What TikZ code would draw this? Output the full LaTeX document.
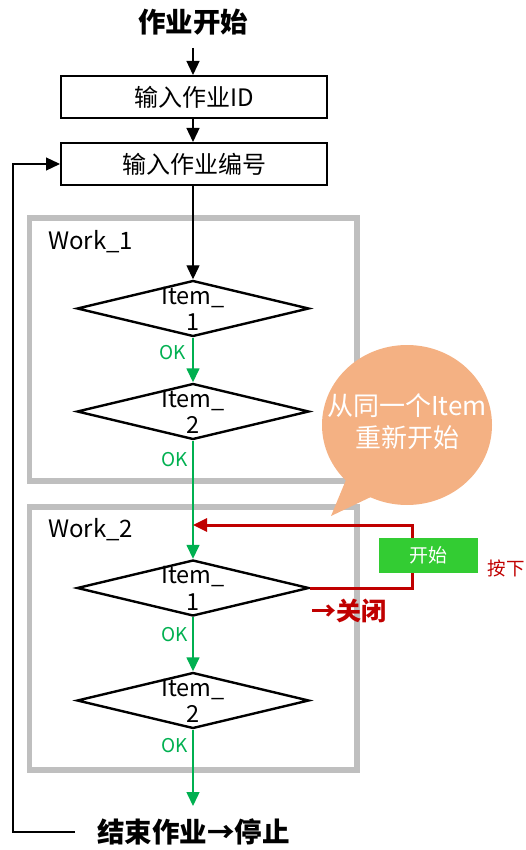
\documentclass[tikz,border=0pt]{standalone}
\usepackage{fontspec}
\setmainfont{Noto Sans CJK SC}
\usetikzlibrary{shapes.geometric,arrows.meta}
\definecolor{grayfr}{HTML}{BFBFBF}
\definecolor{okgreen}{HTML}{00B050}
\definecolor{darkred}{HTML}{C00000}
\definecolor{btngreen}{HTML}{33CC33}
\definecolor{bubblec}{HTML}{F4B183}
\newcommand{\fs}[1]{\fontsize{#1}{#1}\selectfont}
\tikzset{
  arrtip/.style={-{Triangle[length=14pt,width=13pt]}},
  blkarr/.style={arrtip, line width=1.3pt, black},
  grnarr/.style={arrtip, line width=1.5pt, okgreen},
  redarr/.style={arrtip, line width=3pt, darkred},
  stepbox/.style={draw, line width=2pt, minimum width=266pt, minimum height=42pt, inner sep=0pt, font=\fs{24}},
  frame/.style={draw=grayfr, line width=5.5pt},
  dia/.style={diamond, draw, line width=2.4pt, minimum width=232pt, minimum height=56pt, inner sep=0pt},
  ditem/.style={align=center, font=\fs{23.5}, inner sep=0pt},
  oklbl/.style={text=okgreen, font=\fs{19}, inner sep=0pt},
  bigtitle/.style={font=\bfseries\fs{27.5}, inner sep=0pt},
  worklbl/.style={anchor=west, font=\fs{24}, inner sep=0pt},
}
\begin{document}
\begin{tikzpicture}[x=1pt,y=-1pt]
\useasboundingbox (0,0) rectangle (525,850);
% frames
\draw[frame] (29.5,218) rectangle (357,481);
\draw[frame] (29.5,507) rectangle (357,770);
\node[worklbl] (w1) at (48,242) {Work\_1};
\node[worklbl] (w2) at (48,530) {Work\_2};
% title and boxes
\node[bigtitle] (start) at (193,22) {作业开始};
\coordinate (s0) at (193,48);
\node[stepbox] (b1) at (194,97) {输入作业ID};
\node[stepbox] (b2) at (194,164) {输入作业编号};
\draw[blkarr] (s0) -- (b1.north -| s0);
\draw[blkarr] (b1.south -| s0) -- (b2.north -| s0);
% diamonds
\node[dia] (d1) at (193,308.5) {};
\node[ditem] (t1) at (193,309) {Item\_\\[3pt]1};
\node[dia] (d2) at (193,411.5) {};
\node[ditem] (t2) at (193,412) {Item\_\\[3pt]2};
\node[dia] (d3) at (193,588) {};
\node[ditem] (t3) at (193,588.5) {Item\_\\[3pt]1};
\node[dia] (d4) at (193,700.5) {};
\node[ditem] (t4) at (193,701) {Item\_\\[3pt]2};
\draw[blkarr] (b2.south -| s0) -- (d1.north);
% green flow
\draw[grnarr] (d1.south) -- (d2.north);
\draw[grnarr] (d2.south) -- (d3.north);
\draw[grnarr] (d3.south) -- (d4.north);
\coordinate (g4) at (193,806);
\draw[grnarr] (d4.south) -- (g4);
\node[oklbl] (ok1) at (173,353) {OK};
\node[oklbl] (ok2) at (175,460) {OK};
\node[oklbl] (ok3) at (175,635) {OK};
\node[oklbl] (ok4) at (175,746) {OK};
% end and loop
\node[bigtitle] (end) at (193.5,832) {结束作业→停止};
\coordinate (lp) at (75,832);
\draw[blkarr, line width=1.2pt] (lp) -- ++(-62,0) |- (b2.west);
% red return
\coordinate (rc) at (412,525);
\coordinate (rt) at (193,525);
\draw[redarr] (d3.east) -| (rc) -- (rt);
\node[fill=btngreen, text=white, minimum width=99pt, minimum height=35pt, inner sep=0pt, font=\fs{19}] (btn) at (428.5,555.5) {开始};
\node[text=darkred, font=\fs{18.5}, inner sep=0pt] (press) at (506,568) {按下};
\node[text=darkred, font=\bfseries\fs{25}, inner sep=0pt] (close) at (349,611) {→关闭};
% bubble
\fill[bubblec] (407,425) ellipse [x radius=85, y radius=80];
\fill[bubblec] (348,475) -- (331,516) -- (375,495) -- cycle;
\node[text=white, align=center, font=\fs{26}, inner sep=0pt] (bub) at (407,422) {从同一个Item\\[6pt]重新开始};
\end{tikzpicture}
\end{document}
